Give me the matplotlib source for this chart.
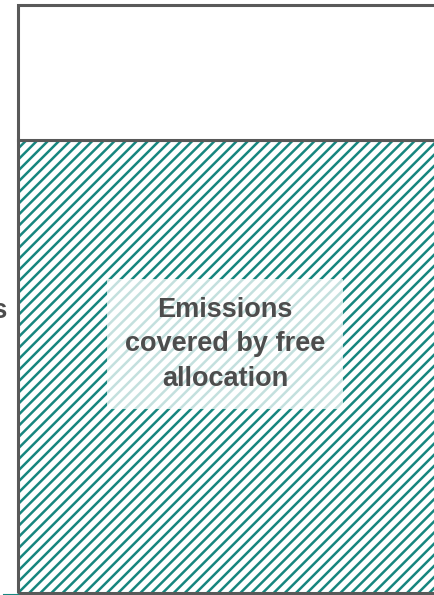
import matplotlib.pyplot as plt

plt.rcParams['font.family'] = ['Liberation Sans', 'DejaVu Sans']
plt.rcParams['hatch.linewidth'] = 1.8

# stacked bar, share of total emissions (%)
categories = ["Total"]
free_allocation = [77]
remaining = [23]
label_free = "Emissions\ncovered by free\nallocation"
label_left = "Emissions"

teal = "#17867f"
grey = "#595959"
text_grey = "#4d4d4d"

fig = plt.figure(figsize=(4.34, 5.95), dpi=100)
ax = fig.add_axes([0, 0, 1, 1])

x = list(range(len(categories)))
# hatched part (hatch drawn in edge colour, so outline drawn separately)
ax.bar(x, free_allocation, width=1.0, color="white", edgecolor=teal,
       linewidth=0, hatch="///", zorder=2)
ax.bar(x, free_allocation, width=1.0, fill=False, edgecolor=grey,
       linewidth=2.2, zorder=3)
ax.bar(x, remaining, bottom=free_allocation, width=1.0, color="white",
       edgecolor=grey, linewidth=2.2, zorder=3)

ax.text(x[0] - 0.5 + 207 / 500, free_allocation[0] / 2 + 3.8, label_free,
        ha="center", va="center", fontsize=19.5, fontweight="bold",
        color=text_grey, linespacing=1.42, zorder=5,
        bbox=dict(boxstyle="square,pad=0.65", facecolor="white",
                  edgecolor="none", alpha=0.75))
ax.text(x[0] - 0.5 - 11 / 500, 46.8, label_left, ha="right", va="baseline",
        fontsize=19.5, fontweight="bold", color=text_grey, zorder=5)

# short teal axis stub at the bottom left
ax.plot([4 / 434, 18 / 434], [0.5 / 595, 0.5 / 595], color=teal,
        linewidth=1.5, transform=ax.transAxes, clip_on=False, zorder=4)

px = 500.0  # pixels per bar width
left = x[0] - 0.5 - 18 / px
ax.set_xlim(left, left + 434 / px)
py = 588 / 100.0
ax.set_ylim(-2 / py, 100 + 5 / py)
ax.axis("off")

fig.savefig("out.png", dpi=100)
